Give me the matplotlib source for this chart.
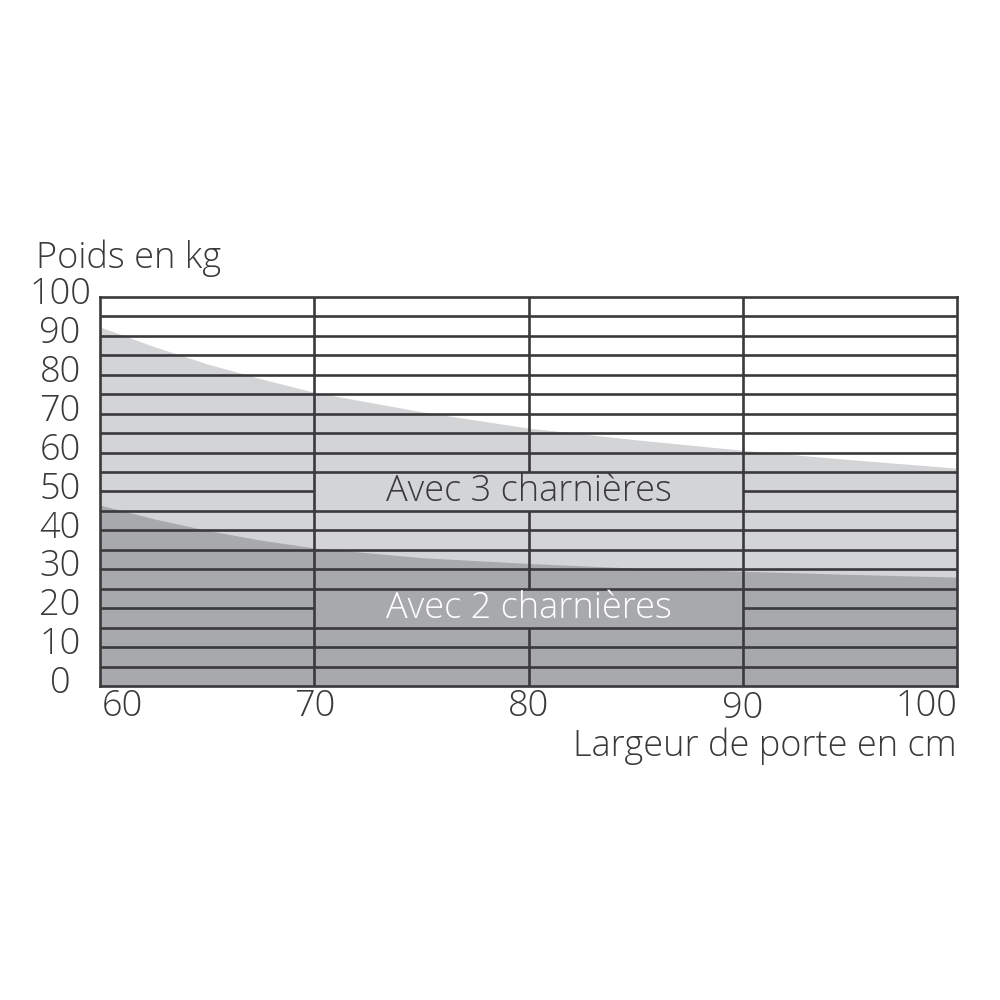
import matplotlib.pyplot as plt
from matplotlib.transforms import blended_transform_factory

plt.rcParams['font.family'] = ['Open Sans', 'DejaVu Sans']
plt.rcParams['font.weight'] = 'light'

# door width (cm) and max weight (kg) curves
width_cm = [60, 62.5, 65, 67.5, 70, 75, 80, 85, 90, 95, 100]
weight_3 = [92.3, 87.3, 82.8, 79.0, 75.5, 70.5, 66.3, 63.3, 60.6, 58.2, 56.0]
weight_2 = [46.5, 43.0, 40.0, 37.5, 35.5, 33.0, 31.5, 30.3, 29.5, 28.7, 28.0]

x_ticks = [60, 70, 80, 90, 100]
y_ticks = [0, 10, 20, 30, 40, 50, 60, 70, 80, 90, 100]
label_3 = 'Avec 3 charnières'
label_2 = 'Avec 2 charnières'

ink = '#3a3a3c'
light = '#d3d4d6'
dark = '#a8a9ac'
lw = 1.9

fig = plt.figure(figsize=(10, 10), dpi=100)
ax = fig.add_axes([0.100, 0.314, 0.857, 0.389])
ax.set_xlim(60, 100)
ax.set_ylim(0, 100)

ax.fill_between(width_cm, 0, weight_3, color=light, lw=0, zorder=1)
ax.fill_between(width_cm, 0, weight_2, color=dark, lw=0, zorder=1)

# horizontal grid every 5 kg, the 50 and 20 lines leave room for the labels
for y in range(5, 100, 5):
    if y in (50, 20):
        ax.hlines(y, 60, 70, color=ink, lw=lw, zorder=2)
        ax.hlines(y, 90, 100, color=ink, lw=lw, zorder=2)
    else:
        ax.hlines(y, 60, 100, color=ink, lw=lw, zorder=2)
ax.vlines([70, 90], 0, 100, color=ink, lw=lw, zorder=2)
ax.vlines(80, 0, 15, color=ink, lw=lw, zorder=2)
ax.vlines(80, 25, 45, color=ink, lw=lw, zorder=2)
ax.vlines(80, 55, 100, color=ink, lw=lw, zorder=2)

for s in ax.spines.values():
    s.set_color(ink)
    s.set_linewidth(lw)
    s.set_zorder(3)

ax.set_xticks([])
ax.set_yticks([])

ax.text(80, 50, label_3, ha='center', va='center', fontsize=26, color=ink, zorder=4)
ax.text(80, 20, label_2, ha='center', va='center', fontsize=26, color='white', zorder=4)

fs = 26
ytr = blended_transform_factory(fig.transFigure, ax.transData)
for v in y_ticks:
    ax.text(0.060, v + 0.6, str(v), transform=ytr, ha='center', va='center',
            fontsize=fs, color=ink, clip_on=False)

xtr = blended_transform_factory(ax.transData, fig.transFigure)
for v in x_ticks:
    ha = 'center'
    x = v
    if v == 60:
        ha = 'left'
        x = 60.1
    elif v == 100:
        ha = 'right'
    yy = 0.291 if v == 90 else 0.294
    ax.text(x, yy, str(v), transform=xtr, ha=ha, va='center', fontsize=fs,
            color=ink, clip_on=False)

fig.text(0.957, 0.254, 'Largeur de porte en cm', ha='right', va='center',
         fontsize=fs, color=ink)
fig.text(0.036, 0.742, 'Poids en kg', ha='left', va='center', fontsize=fs, color=ink)

fig.savefig('out.png', dpi=100, facecolor='white')
